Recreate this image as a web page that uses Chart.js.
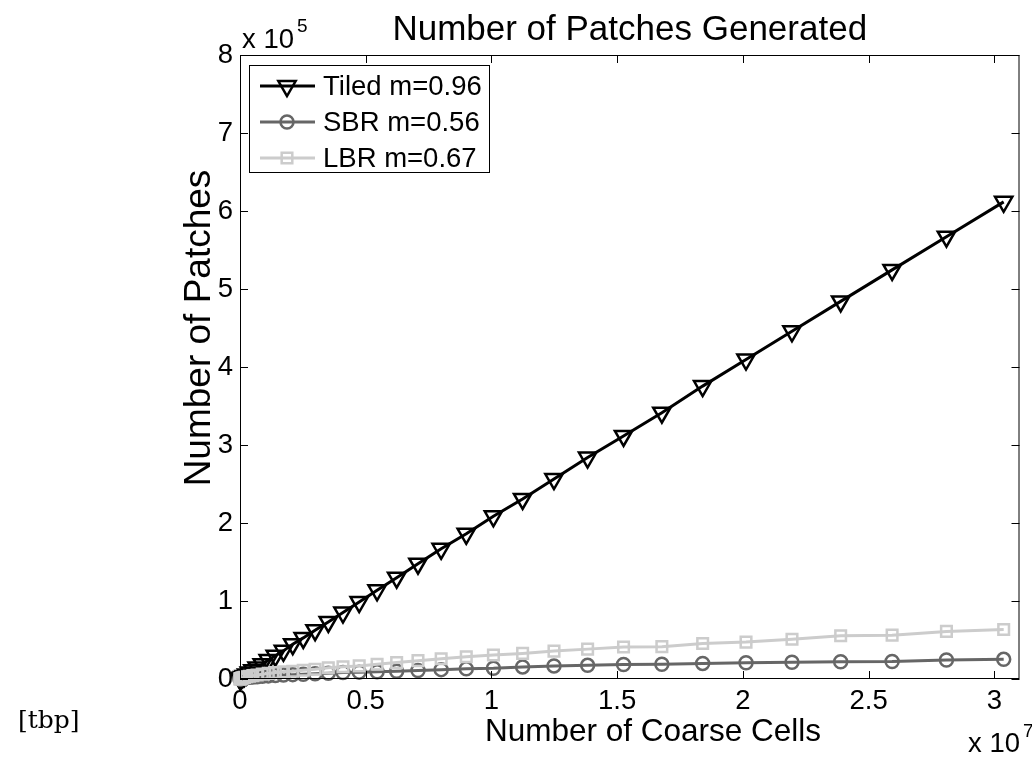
<!DOCTYPE html>
<html>
<head>
<meta charset="utf-8">
<title>Number of Patches Generated</title>
<script src="https://cdn.jsdelivr.net/npm/chart.js@4.4.1/dist/chart.umd.min.js"></script>
<style>
  html, body { margin: 0; padding: 0; background: #fff; }
  #wrap { position: relative; width: 1032px; height: 763px; }
</style>
</head>
<body>
<div id="wrap"><canvas id="patchChart" width="1032" height="763"></canvas></div>
<script>
// values
// cells are in units of 1e7, patches in units of 1e5 (as on the axes)
const coarseCells = [0.00005, 0.0004, 0.0014, 0.0033, 0.0064, 0.0111, 0.0176, 0.0262, 0.0373, 0.0512,
  0.0681, 0.0885, 0.1125, 0.1405, 0.1728, 0.2097, 0.2515, 0.2986, 0.3512, 0.4096,
  0.4741, 0.5452, 0.6230, 0.7078, 0.8000, 0.8999, 1.0078, 1.1239, 1.2487, 1.3824,
  1.5253, 1.6777, 1.8400, 2.0124, 2.1952, 2.3888, 2.5934, 2.8094, 3.0371];

const tiledPatches = [0.0001, 0.001, 0.0035, 0.008, 0.015, 0.026, 0.040, 0.059, 0.083, 0.112,
  0.148, 0.19, 0.243, 0.298, 0.361, 0.447, 0.527, 0.626, 0.732, 0.852,
  0.987, 1.137, 1.299, 1.478, 1.669, 1.861, 2.086, 2.308, 2.563, 2.839,
  3.116, 3.414, 3.755, 4.096, 4.458, 4.841, 5.245, 5.670, 6.117];

const sbrPatches = [0.0005, 0.0017, 0.0034, 0.0055, 0.0078, 0.011, 0.014, 0.0175, 0.021, 0.026,
  0.030, 0.035, 0.040, 0.045, 0.051, 0.056, 0.062, 0.068, 0.075, 0.082,
  0.088, 0.094, 0.100, 0.108, 0.120, 0.130, 0.138, 0.155, 0.168, 0.175,
  0.185, 0.188, 0.200, 0.208, 0.215, 0.222, 0.224, 0.243, 0.252];

const lbrPatches = [0.0004, 0.0015, 0.0038, 0.007, 0.011, 0.015, 0.021, 0.028, 0.035, 0.043,
  0.052, 0.062, 0.072, 0.082, 0.092, 0.100, 0.113, 0.125, 0.144, 0.157,
  0.168, 0.190, 0.210, 0.235, 0.260, 0.285, 0.307, 0.328, 0.358, 0.383,
  0.410, 0.415, 0.455, 0.473, 0.510, 0.555, 0.562, 0.610, 0.635];

const seriesNames = ['Tiled m=0.96', 'SBR m=0.56', 'LBR m=0.67'];
const xTickValues = [0, 0.5, 1, 1.5, 2, 2.5, 3];
const yTickValues = [0, 1, 2, 3, 4, 5, 6, 7, 8];

const fontName = '"Liberation Sans", Arial, Helvetica, sans-serif';

function toPoints(ys) {
  return ys.map((y, i) => ({ x: coarseCells[i], y: y }));
}

// MATLAB-like box, inward ticks, texts and legend
const matlabAxes = {
  id: 'matlabAxes',
  afterDraw(chart) {
    const ctx = chart.ctx;
    const a = chart.chartArea;
    const xs = chart.scales.x;
    const ys = chart.scales.y;
    const tl = 8;

    ctx.save();
    ctx.strokeStyle = '#000';
    ctx.lineWidth = 1;
    ctx.beginPath();
    xTickValues.forEach(v => {
      const px = Math.round(xs.getPixelForValue(v)) + 0.5;
      ctx.moveTo(px, a.bottom); ctx.lineTo(px, a.bottom - tl);
      ctx.moveTo(px, a.top); ctx.lineTo(px, a.top + tl);
    });
    yTickValues.forEach(v => {
      const py = Math.round(ys.getPixelForValue(v)) + 0.5;
      ctx.moveTo(a.left, py); ctx.lineTo(a.left + tl, py);
      ctx.moveTo(a.right, py); ctx.lineTo(a.right - tl, py);
    });
    ctx.stroke();
    ctx.strokeRect(a.left + 0.5, a.top + 0.5, a.right - a.left - 1, a.bottom - a.top - 1);

    ctx.fillStyle = '#000';
    // title
    ctx.font = '35px ' + fontName;
    ctx.textAlign = 'center';
    ctx.textBaseline = 'alphabetic';
    ctx.fillText('Number of Patches Generated', (a.left + a.right) / 2, 40);

    // exponent labels
    ctx.textAlign = 'left';
    ctx.font = '27.5px ' + fontName;
    ctx.fillText('x 10', 242, 48);
    ctx.fillText('x 10', 968, 752);
    ctx.font = '19px ' + fontName;
    ctx.fillText('5', 297, 32);
    ctx.fillText('7', 1023, 737);

    // axis labels
    ctx.font = '31.5px ' + fontName;
    ctx.textAlign = 'center';
    ctx.fillText('Number of Coarse Cells', 653, 741);
    ctx.save();
    ctx.translate(210, 328);
    ctx.rotate(-Math.PI / 2);
    ctx.font = '37px ' + fontName;
    ctx.fillText('Number of Patches', 0, 0);
    ctx.restore();

    // stray float specifier from the source document
    ctx.font = '25px "DejaVu Serif", serif';
    ctx.textAlign = 'left';
    ctx.fillText('[tbp]', 18, 728);

    // legend
    const box = { x: 249, y: 65, w: 240, h: 107 };
    ctx.fillStyle = '#fff';
    ctx.fillRect(box.x, box.y, box.w, box.h);
    ctx.strokeStyle = '#000';
    ctx.lineWidth = 1;
    ctx.strokeRect(box.x + 0.5, box.y + 0.5, box.w, box.h);
    chart.data.datasets.forEach((ds, i) => {
      const cy = 86 + i * 36;
      ctx.strokeStyle = ds.borderColor;
      ctx.lineWidth = ds.borderWidth;
      ctx.beginPath();
      ctx.moveTo(260, cy);
      ctx.lineTo(315, cy);
      ctx.stroke();
      ctx.fillStyle = 'rgba(0,0,0,0)';
      ctx.lineWidth = ds.pointBorderWidth;
      Chart.helpers.drawPoint(ctx, {
        pointStyle: ds.pointStyle,
        rotation: ds.pointRotation || 0,
        radius: ds.pointRadius,
        borderWidth: ds.pointBorderWidth
      }, 287, cy);
      ctx.fillStyle = '#000';
      ctx.font = '27.5px ' + fontName;
      ctx.textAlign = 'left';
      ctx.textBaseline = 'middle';
      ctx.fillText(ds.label, 323, cy + 1);
    });
    ctx.restore();
  }
};

new Chart(document.getElementById('patchChart'), {
  type: 'line',
  data: {
    datasets: [{
      label: seriesNames[0],
      data: toPoints(tiledPatches),
      borderColor: '#000000',
      borderWidth: 3,
      pointStyle: 'triangle',
      pointRotation: 180,
      pointRadius: 10,
      pointHoverRadius: 10,
      pointBorderWidth: 2.5,
      pointBorderColor: '#000000',
      pointBackgroundColor: 'rgba(0,0,0,0)',
      order: 3
    }, {
      label: seriesNames[1],
      data: toPoints(sbrPatches),
      borderColor: '#666666',
      borderWidth: 3,
      pointStyle: 'circle',
      pointRadius: 6.5,
      pointHoverRadius: 6.5,
      pointBorderWidth: 2.5,
      pointBorderColor: '#666666',
      pointBackgroundColor: 'rgba(0,0,0,0)',
      order: 2
    }, {
      label: seriesNames[2],
      data: toPoints(lbrPatches),
      borderColor: '#cccccc',
      borderWidth: 3,
      pointStyle: 'rect',
      pointRadius: 7.5,
      pointHoverRadius: 7.5,
      pointBorderWidth: 2.5,
      pointBorderColor: '#cccccc',
      pointBackgroundColor: 'rgba(0,0,0,0)',
      order: 1
    }]
  },
  options: {
    responsive: false,
    animation: false,
    devicePixelRatio: 1,
    events: [],
    clip: false,
    layout: { padding: { left: 0, top: 55, right: 1, bottom: 0 } },
    elements: { line: { tension: 0 } },
    scales: {
      x: {
        type: 'linear',
        min: 0,
        max: 3.1,
        grid: { display: false, drawTicks: false },
        border: { display: false },
        afterBuildTicks: scale => { scale.ticks = xTickValues.map(v => ({ value: v })); },
        afterFit: scale => { scale.height = 84; },
        ticks: {
          color: '#000',
          padding: 6,
          maxRotation: 0,
          font: { family: fontName, size: 27.5 },
          callback: v => String(v)
        }
      },
      y: {
        type: 'linear',
        min: 0,
        max: 8,
        grid: { display: false, drawTicks: false },
        border: { display: false },
        afterBuildTicks: scale => { scale.ticks = yTickValues.map(v => ({ value: v })); },
        afterFit: scale => { scale.width = 240; },
        ticks: {
          color: '#000',
          padding: 7,
          font: { family: fontName, size: 27.5 },
          callback: v => String(v)
        }
      }
    },
    plugins: {
      legend: { display: false },
      title: { display: false },
      tooltip: { enabled: false }
    }
  },
  plugins: [matlabAxes]
});
</script>
</body>
</html>
